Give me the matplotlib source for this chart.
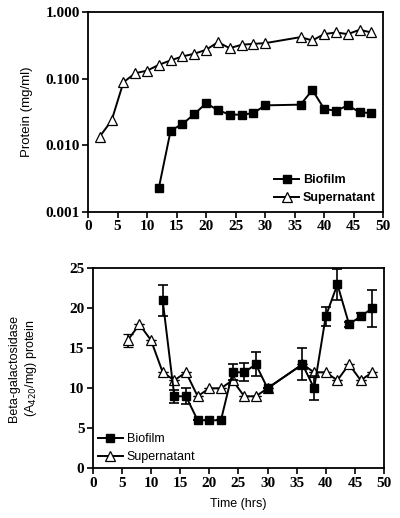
import matplotlib
matplotlib.use("Agg")
import matplotlib.pyplot as plt

# top panel: protein (mg/ml), log scale
prot_bio_t = [12, 14, 16, 18, 20, 22, 24, 26, 28, 30, 36, 38, 40, 42, 44, 46, 48]
prot_bio = [0.0023, 0.0167, 0.021, 0.0295, 0.043, 0.034, 0.029, 0.029, 0.0305, 0.040,
            0.041, 0.068, 0.0355, 0.033, 0.040, 0.0316, 0.0305]
prot_sup_t = [2, 4, 6, 8, 10, 12, 14, 16, 18, 20, 22, 24, 26, 28, 30, 36, 38, 40, 42, 44, 46, 48]
prot_sup = [0.0136, 0.0237, 0.089, 0.122, 0.133, 0.163, 0.19, 0.218, 0.239, 0.274, 0.357,
            0.29, 0.326, 0.337, 0.345, 0.425, 0.379, 0.472, 0.50, 0.472, 0.548, 0.50]

# bottom panel: beta-galactosidase activity
gal_bio_t = [12, 14, 16, 18, 20, 22, 24, 26, 28, 30, 36, 38, 40, 42, 44, 46, 48]
gal_bio = [21, 9, 9, 6, 6, 6, 12, 12, 13, 10, 13, 10, 19, 23, 18, 19, 20]
gal_bio_err = [1.9, 0.8, 1.0, 0, 0, 0, 1.0, 1.1, 1.5, 0, 2.0, 1.5, 1.2, 1.9, 0.3, 0.4, 2.3]
gal_sup_t = [6, 8, 10, 12, 14, 16, 18, 20, 22, 24, 26, 28, 30, 36, 38, 40, 42, 44, 46, 48]
gal_sup = [16, 18, 16, 12, 11, 12, 9, 10, 10, 11, 9, 9, 10, 13, 12, 12, 11, 13, 11, 12]
gal_sup_err = [0.8, 0, 0, 0, 0, 0, 0, 0, 0, 0, 0, 0, 0, 0, 0, 0, 0, 0, 0, 0]

tick_font = {"family": "Liberation Serif", "weight": "bold", "size": 11}
label_font = {"family": "Liberation Sans", "size": 9}

fig = plt.figure(figsize=(4.0, 5.18), dpi=100)
ax1 = fig.add_axes([0.22, 0.591, 0.738, 0.385])
ax2 = fig.add_axes([0.232, 0.096, 0.728, 0.386])

sq = dict(color="black", marker="s", markersize=6, lw=1.4, mfc="black", mec="black")
tri = dict(color="black", marker="^", markersize=7, lw=1.4, mfc="white", mec="black", mew=0.9)

# top
ax1.plot(prot_bio_t, prot_bio, label="Biofilm", **sq)
ax1.plot(prot_sup_t, prot_sup, label="Supernatant", **tri)
ax1.set_yscale("log")
ax1.set_ylim(0.001, 1.0)
ax1.set_xlim(0, 50)
ax1.set_yticks([0.001, 0.01, 0.1, 1.0])
ax1.set_yticklabels(["0.001", "0.010", "0.100", "1.000"], fontdict=tick_font)
ax1.minorticks_off()
ax1.set_xticks(range(0, 51, 5))
ax1.set_xticklabels([str(v) for v in range(0, 51, 5)], fontdict=tick_font)
ax1.set_ylabel("Protein (mg/ml)", fontdict={"family": "Liberation Sans", "size": 9.5}, labelpad=9)
ax1.legend(loc="lower right", frameon=False, prop={"family": "Liberation Sans", "size": 9, "weight": "bold"},
           handlelength=2.0, handletextpad=0.3, borderaxespad=0.2, labelspacing=0.5)

# bottom
ax2.errorbar(gal_bio_t, gal_bio, yerr=gal_bio_err, capsize=3.5, elinewidth=1.2, capthick=1.2,
             label="Biofilm", zorder=3, **sq)
ax2.errorbar(gal_sup_t, gal_sup, yerr=gal_sup_err, capsize=3.5, elinewidth=1.2, capthick=1.2,
             label="Supernatant", zorder=2, **tri)
ax2.set_ylim(0, 25)
ax2.set_xlim(0, 50)
ax2.set_yticks(range(0, 26, 5))
ax2.set_yticklabels([str(v) for v in range(0, 26, 5)], fontdict=tick_font)
ax2.set_xticks(range(0, 51, 5))
ax2.set_xticklabels([str(v) for v in range(0, 51, 5)], fontdict=tick_font)
ax2.set_xlabel("Time (hrs)", fontdict=label_font, labelpad=6)
ax2.set_ylabel("Beta-galactosidase\n(A$_{420}$/mg) protein", fontdict=label_font, labelpad=22)
h, l = ax2.get_legend_handles_labels()
h = [x[0] for x in h]
ax2.legend(h, l, loc="lower left", frameon=False, prop={"family": "Liberation Sans", "size": 9},
           handlelength=2.0, handletextpad=0.3, borderaxespad=0.0, labelspacing=0.5)

for ax in (ax1, ax2):
    for s in ax.spines.values():
        s.set_linewidth(1.3)
    ax.tick_params(direction="out", length=4, width=1.2, pad=2)

fig.savefig("out.png", dpi=100)
